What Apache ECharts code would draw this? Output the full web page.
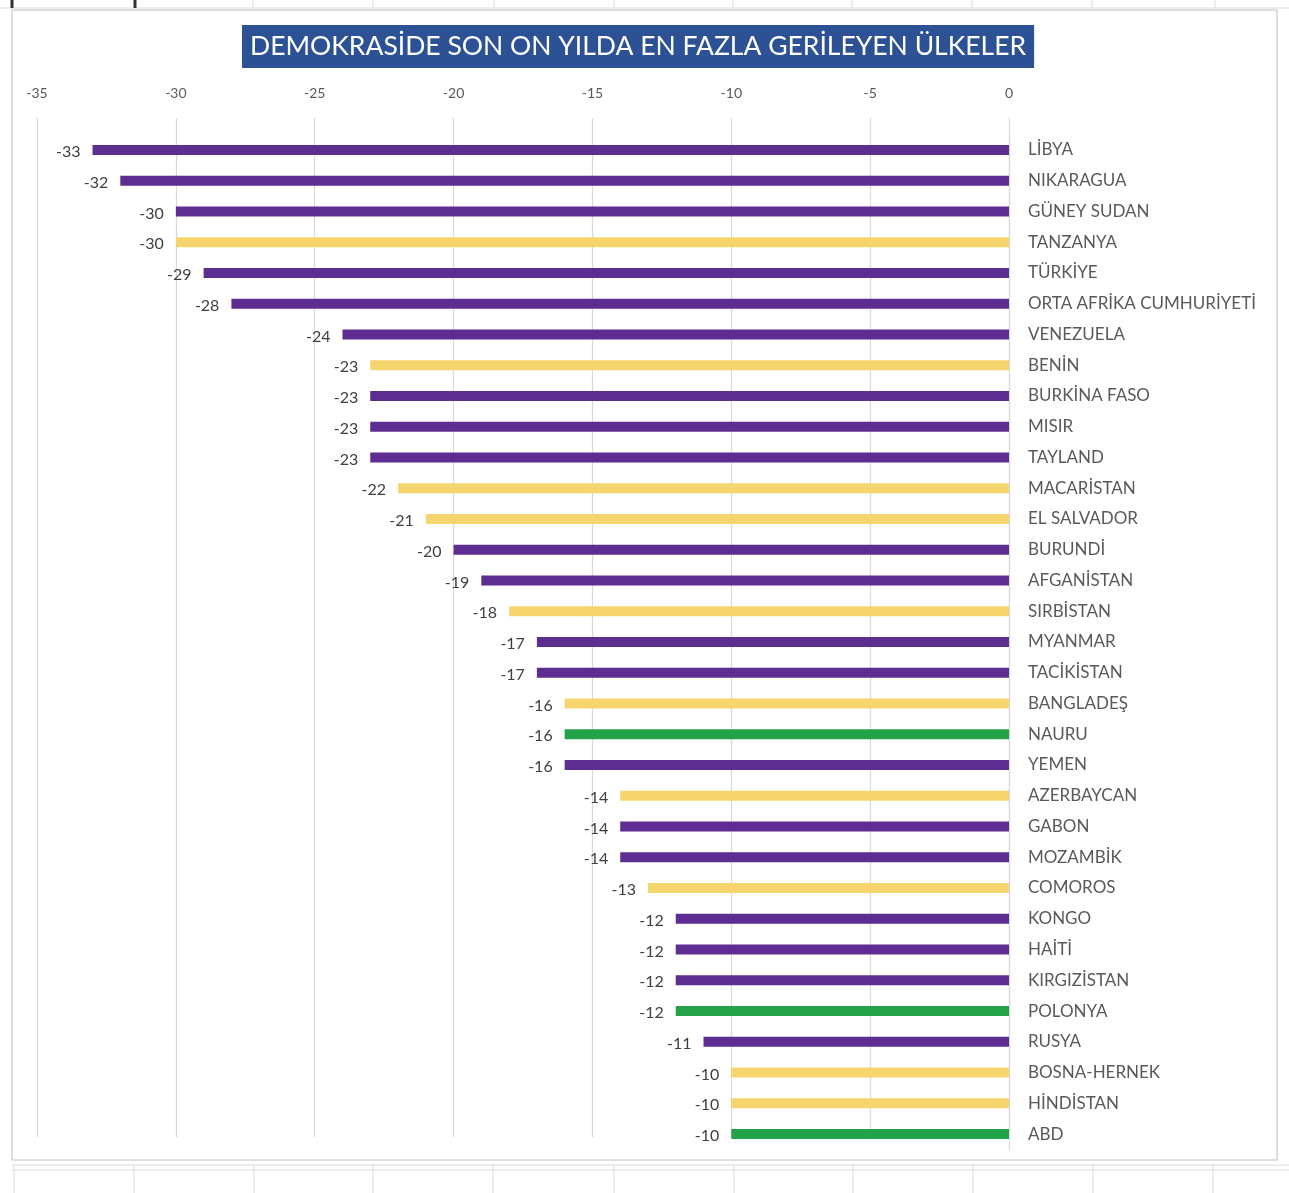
<!DOCTYPE html>
<html>
<head>
<meta charset="utf-8">
<script src="https://cdn.jsdelivr.net/npm/echarts@6/dist/echarts.min.js"></script>
<style>
  html, body { margin: 0; padding: 0; background: #ffffff; }
  #chart { width: 1289px; height: 1193px; }
</style>
</head>
<body>
<div id="chart"></div>
<script>
const titleText = 'DEMOKRASİDE SON ON YILDA EN FAZLA GERİLEYEN ÜLKELER';
const countries = ['LİBYA','NIKARAGUA','GÜNEY SUDAN','TANZANYA','TÜRKİYE','ORTA AFRİKA CUMHURİYETİ','VENEZUELA','BENİN','BURKİNA FASO','MISIR','TAYLAND','MACARİSTAN','EL SALVADOR','BURUNDİ','AFGANİSTAN','SIRBİSTAN','MYANMAR','TACİKİSTAN','BANGLADEŞ','NAURU','YEMEN','AZERBAYCAN','GABON','MOZAMBİK','COMOROS','KONGO','HAİTİ','KIRGIZİSTAN','POLONYA','RUSYA','BOSNA-HERNEK','HİNDİSTAN','ABD'];
const changes = [-33,-32,-30,-30,-29,-28,-24,-23,-23,-23,-23,-22,-21,-20,-19,-18,-17,-17,-16,-16,-16,-14,-14,-14,-13,-12,-12,-12,-12,-11,-10,-10,-10];
const groups = ['mor','mor','mor','sarı','mor','mor','mor','sarı','mor','mor','mor','sarı','sarı','mor','mor','sarı','mor','mor','sarı','yeşil','mor','sarı','mor','mor','sarı','mor','mor','mor','yeşil','mor','sarı','sarı','yeşil'];
const axisTicks = [-35,-30,-25,-20,-15,-10,-5,0];

const colorMap = { 'mor': '#5E2D91', 'sarı': '#F6D56E', 'yeşil': '#23A24A' };

const chart = echarts.init(document.getElementById('chart'), null, { renderer: 'canvas' });

const gridColor = '#dcdcdc';
const graphics = [];
// chart frame
graphics.push({ type: 'rect', shape: { x: 12, y: 10, width: 1265, height: 1150 }, style: { fill: 'none', stroke: '#d4d4d4', lineWidth: 1.5 }, z: -10 });
// spreadsheet cells above
graphics.push({ type: 'line', shape: { x1: 0, y1: 8, x2: 1289, y2: 8 }, style: { stroke: gridColor, lineWidth: 1 }, z: -10 });
[12,135,253,373,494,614,733,852,972,1092,1215].forEach((x, i) => {
  graphics.push({ type: 'line', shape: { x1: x, y1: 0, x2: x, y2: 8 }, style: { stroke: i < 2 ? '#333' : gridColor, lineWidth: i < 2 ? 3 : 1 }, z: -10 });
});
// spreadsheet cells below
graphics.push({ type: 'line', shape: { x1: 12, y1: 1165, x2: 1289, y2: 1165 }, style: { stroke: gridColor, lineWidth: 1 }, z: -10 });
graphics.push({ type: 'line', shape: { x1: 12, y1: 1170, x2: 1289, y2: 1170 }, style: { stroke: gridColor, lineWidth: 1 }, z: -10 });
[14,134,254,373,493,614,734,853,973,1093,1213].forEach(x => {
  graphics.push({ type: 'line', shape: { x1: x, y1: 1165, x2: x, y2: 1193 }, style: { stroke: gridColor, lineWidth: 1 }, z: -10 });
});

const option = {
  backgroundColor: '#ffffff',
  animation: false,
  title: {
    text: titleText,
    left: 242,
    top: 25,
    backgroundColor: '#2C5195',
    padding: [8, 8, 8, 8],
    textStyle: { color: '#ffffff', fontFamily: 'Lato, "Open Sans", sans-serif', fontSize: 26.5, fontWeight: 'normal' }
  },
  graphic: graphics,
  grid: [
    { left: 37, right: 280, top: 134.6, bottom: 43.6, containLabel: false },
    { left: 37, right: 280, top: 118, bottom: 56, containLabel: false }
  ],
  xAxis: [
    {
      gridIndex: 0, type: 'value', min: -35, max: 0, interval: 5,
      axisLine: { show: false }, axisTick: { show: false }, axisLabel: { show: false }, splitLine: { show: false }
    },
    {
      gridIndex: 1, type: 'value', position: 'top', min: -35, max: 0, interval: 5,
      axisLine: { show: false }, axisTick: { show: false },
      axisLabel: {
        margin: 18, color: '#595959', fontSize: 14, fontFamily: 'Lato, "Open Sans", sans-serif',
        formatter: v => axisTicks.includes(v) ? String(v) : ''
      },
      splitLine: { show: true, lineStyle: { color: '#d9d9d9', width: 1.2 } }
    }
  ],
  yAxis: [
    {
      gridIndex: 0, type: 'category', data: countries, inverse: true, position: 'right',
      axisLine: { show: true, lineStyle: { color: '#d9d9d9', width: 1.2 } },
      axisTick: { show: false },
      axisLabel: { margin: 19, color: '#595959', fontSize: 17, fontFamily: 'Lato, "Open Sans", sans-serif' }
    },
    {
      gridIndex: 1, type: 'category', data: countries, inverse: true, show: false
    }
  ],
  series: [
    {
      type: 'bar',
      xAxisIndex: 0, yAxisIndex: 0,
      barWidth: 10,
      data: changes.map((v, i) => ({ value: v, itemStyle: { color: colorMap[groups[i]] } })),
      label: {
        show: true, position: 'left', distance: 12, offset: [0, 2],
        color: '#404040', fontSize: 16, fontFamily: 'Lato, "Open Sans", sans-serif'
      }
    }
  ]
};
chart.setOption(option);
</script>
</body>
</html>
